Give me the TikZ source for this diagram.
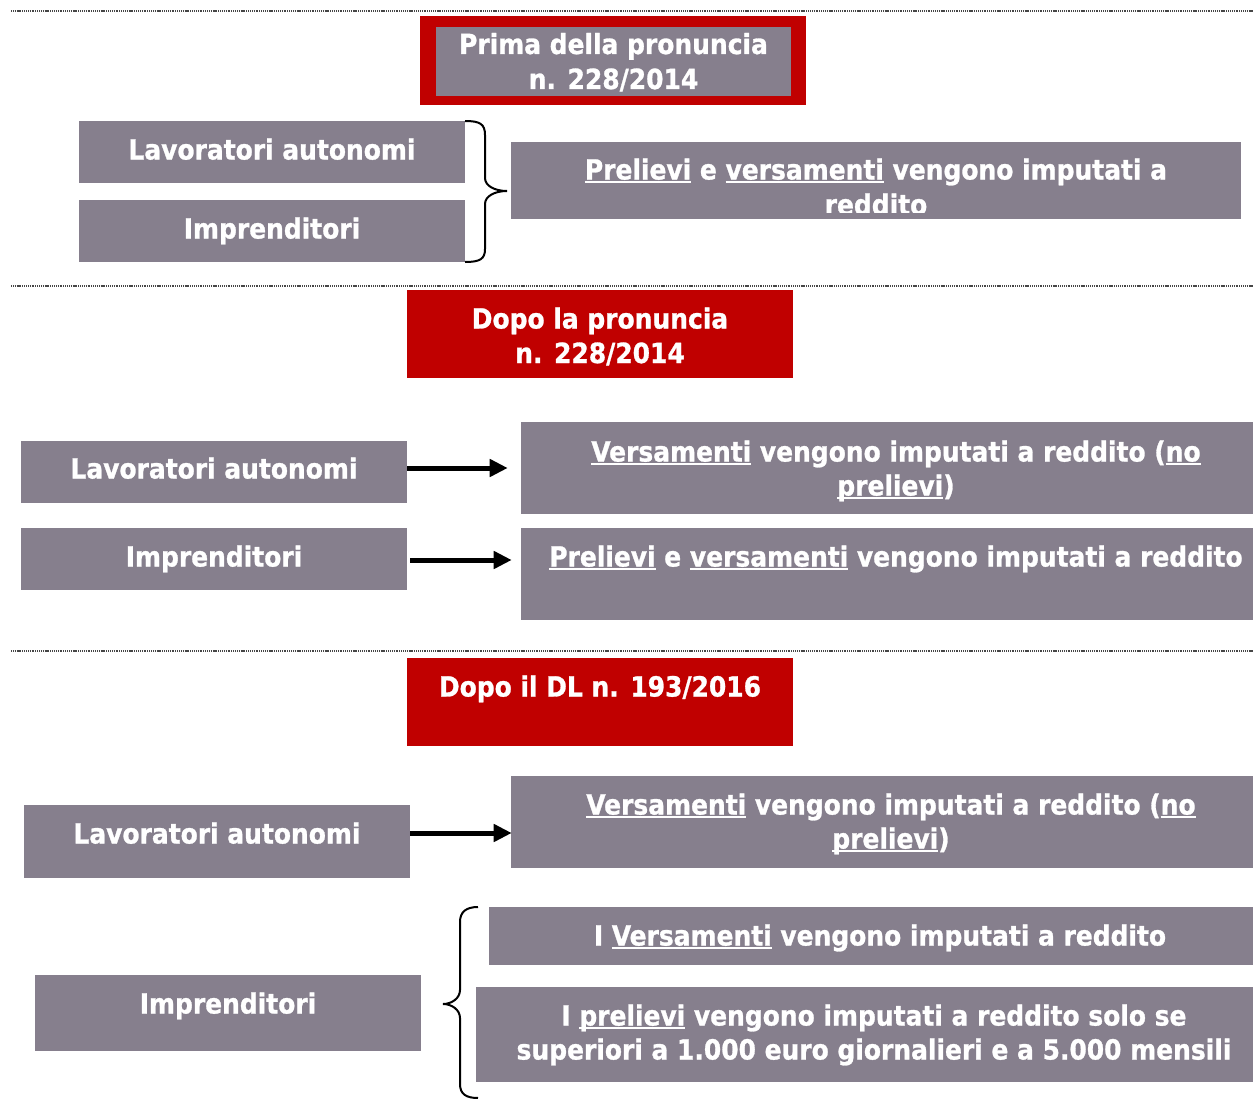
\documentclass[tikz,border=0pt]{standalone}
\usepackage{fontspec}
\newfontfamily\tah{DejaVu Sans Condensed}[BoldFeatures={FakeBold=1}]
\newcommand\uln[1]{\setbox0=\hbox{#1}\rlap{\rule[-2.8pt]{\wd0}{1.5pt}}\box0\relax}
\usetikzlibrary{arrows.meta,calc}
\definecolor{boxgray}{RGB}{134,127,141}
\definecolor{hred}{RGB}{192,0,0}
\definecolor{dotgray}{RGB}{70,70,70}
\tikzset{
  gbox/.style 2 args={fill=boxgray, draw=none, inner sep=0pt, minimum width=#1*0.75pt, minimum height=#2*0.75pt},
  rbox/.style 2 args={fill=hred, draw=none, inner sep=0pt, minimum width=#1*0.75pt, minimum height=#2*0.75pt},
  txt/.style={text=white, font=\tah\bfseries\fontsize{20.8}{26}\selectfont, anchor=base, inner sep=0pt},
  sep/.style={draw=dotgray, line width=1.2pt, dash pattern=on 0.8pt off 0.6pt},
  arr/.style={draw=black, line width=3.75pt, -{Triangle[length=13.5pt,width=12.75pt]}},
  brc/.style={draw=black, line width=1.5pt}
}
\begin{document}
\begin{tikzpicture}[x=0.75pt,y=-0.75pt]
\useasboundingbox (0,0) rectangle (1253,1099);
\fill[white] (0,0) rectangle (1253,1099);

% separators
\coordinate (s1a) at (11,11);  \coordinate (s1b) at (1253,11);
\coordinate (s2a) at (11,286); \coordinate (s2b) at (1253,286);
\coordinate (s3a) at (11,651); \coordinate (s3b) at (1253,651);
\draw[sep] (s1a) -- (s1b);
\draw[sep] (s2a) -- (s2b);
\draw[sep] (s3a) -- (s3b);

% ---------- section 1
\node[rbox={386}{89}] (red1) at (613,60.5) {};
\node[gbox={355}{69}] (g1) at (613.5,61.5) {};
\node[txt] (t1a) at (613.5,54) {Prima della pronuncia};
\node[txt] (t1b) at (613.5,89) {n. 228/2014};

\node[gbox={386}{62}] (lav1) at (272,152) {};
\node[txt] (tl1) at (272,159.5) {Lavoratori autonomi};
\node[gbox={386}{62}] (imp1) at (272,231) {};
\node[txt] (ti1) at (272,238.5) {Imprenditori};

\node[gbox={730}{77}] (r1) at (876,180.5) {};
\node[txt] (tr1a) at (876,179.5) {\uln{Prelievi} e \uln{versamenti} vengono imputati a};
\begin{scope}
\clip (r1.north west) rectangle (r1.east |- 0,212);
\node[txt] (tr1b) at (876,214.5) {reddito};
\end{scope}

% right brace
\coordinate (b1top) at (465,121);
\coordinate (b1tip) at (507,191);
\coordinate (b1bot) at (465,262);
\draw[brc] (b1top) .. controls (480,121) and (485,124) .. (485,135) -- (485,178)
  .. controls (485,186) and (495,191) .. (b1tip)
  .. controls (495,191) and (485,196) .. (485,204) -- (485,249)
  .. controls (485,259) and (480,262) .. (b1bot);

% ---------- section 2
\node[rbox={386}{88}] (red2) at (600,334) {};
\node[txt] (t2a) at (600,328.5) {Dopo la pronuncia};
\node[txt] (t2b) at (600,363) {n. 228/2014};

\node[gbox={386}{62}] (lav2) at (214,472) {};
\node[txt] (tl2) at (214,478.5) {Lavoratori autonomi};
\node[gbox={750}{92}] (r2a) at (896,468) {};
\node[txt] (tr2a) at (896,461.5) {\uln{Versamenti} vengono imputati a reddito (\uln{no}};
\node[txt] (tr2b) at (896,495.5) {\uln{prelievi})};

\node[gbox={386}{62}] (imp2) at (214,559) {};
\node[txt] (ti2) at (214,566.5) {Imprenditori};
\node[gbox={750}{92}] (r2b) at (896,574) {};
\node[txt] (tr2c) at (896,566.5) {\uln{Prelievi} e \uln{versamenti} vengono imputati a reddito};

\draw[arr] ($(lav2.east)+(0,-4)$) -- ($(lav2.east -| r2a.west)+(-13,-4)$);
\draw[arr] ($(imp2.east)+(3,1)$) -- ($(imp2.east -| r2b.west)+(-9,1)$);

% ---------- section 3
\node[rbox={386}{88}] (red3) at (600,702) {};
\node[txt] (t3a) at (600,696.5) {Dopo il DL n. 193/2016};

\node[gbox={386}{73}] (lav3) at (217,841.5) {};
\node[txt] (tl3) at (217,843.5) {Lavoratori autonomi};
\node[gbox={760}{92}] (r3a) at (891,822) {};
\node[txt] (tr3a) at (891,814.5) {\uln{Versamenti} vengono imputati a reddito (\uln{no}};
\node[txt] (tr3b) at (891,848.5) {\uln{prelievi})};
\draw[arr] ($(lav3.east)+(0,-8.5)$) -- ($(lav3.east -| r3a.west)+(1,-8.5)$);

\node[gbox={386}{76}] (imp3) at (228,1013) {};
\node[txt] (ti3) at (228,1013.5) {Imprenditori};
\node[gbox={782}{58}] (r3b) at (880,936) {};
\node[txt] (tr3c) at (880,945.5) {I \uln{Versamenti} vengono imputati a reddito};
\node[gbox={795}{95}] (r3c) at (873.5,1034.5) {};
\node[txt] (tr3d) at (874,1025.5) {I \uln{prelievi} vengono imputati a reddito solo se};
\node[txt] (tr3e) at (874,1059.5) {superiori a 1.000 euro giornalieri e a 5.000 mensili};

% left brace
\coordinate (b2top) at (478,907);
\coordinate (b2tip) at (443,1004);
\coordinate (b2bot) at (478,1098);
\draw[brc] (b2top) .. controls (466,907) and (460,912) .. (460,922) -- (460,990)
  .. controls (460,998) and (452,1004) .. (b2tip)
  .. controls (452,1004) and (460,1010) .. (460,1018) -- (460,1084)
  .. controls (460,1094) and (466,1098) .. (b2bot);
\end{tikzpicture}
\end{document}
